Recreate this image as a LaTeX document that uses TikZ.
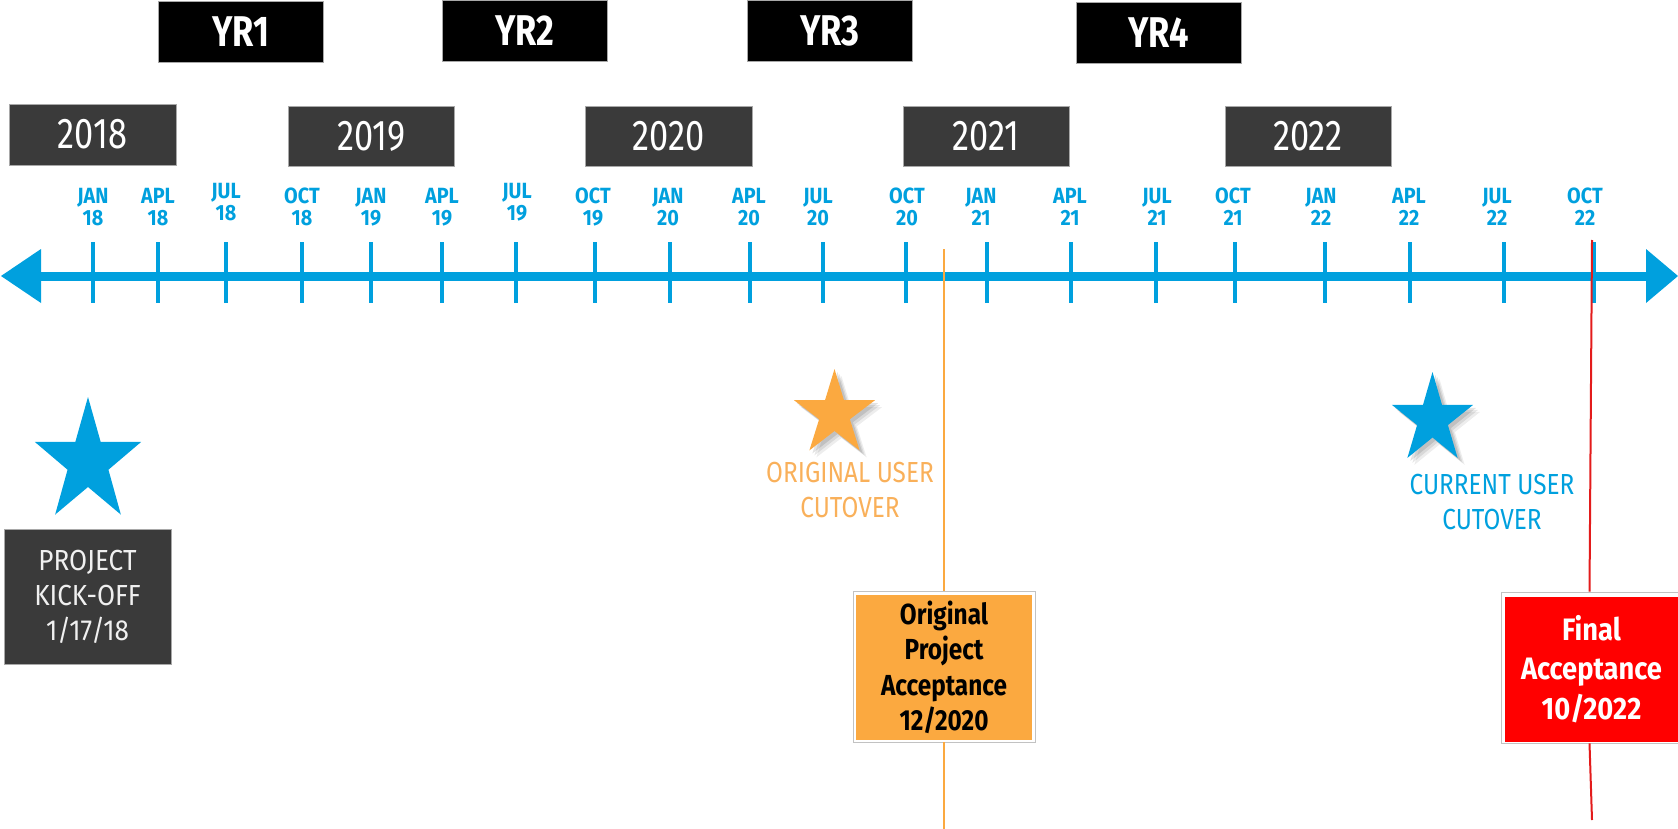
\documentclass[tikz,border=0pt]{standalone}
\usepackage{fontspec}
\setmainfont{Fira Sans}[FakeStretch=0.8]
\newfontfamily\fsn{Fira Sans}[FakeStretch=0.84]
\newfontfamily\fsm{Fira Sans}[FakeStretch=0.88]
\newfontfamily\fsw{Fira Sans}[FakeStretch=0.9]
\usetikzlibrary{shadows}
\definecolor{cblue}{HTML}{00A0DE}
\definecolor{cdark}{HTML}{3A3A3A}
\definecolor{corange}{HTML}{FBA940}
\definecolor{corangetxt}{HTML}{F9B05A}
\definecolor{cred}{HTML}{FF0000}
\definecolor{credline}{HTML}{E31B1B}
\definecolor{cborder}{HTML}{A8A8A8}
\begin{document}
\begin{tikzpicture}[x=1pt,y=-1pt,
  yrbox/.style={fill=black, draw=cborder, line width=0.8pt, inner sep=0pt,
    minimum width=165pt, minimum height=61pt, text=white,
    font=\bfseries\fontsize{43}{43}\selectfont},
  yearbox/.style={fill=cdark, draw=cborder, line width=0.8pt, inner sep=0pt,
    minimum width=166pt, minimum height=60pt, text=white,
    font=\fontsize{43}{43}\selectfont},
  month/.style={text=cblue, align=center, inner sep=0pt,
    font=\fsw\bfseries\fontsize{22}{22}\selectfont},
  tick/.style={draw=cblue, line width=4pt},
  axisline/.style={draw=cblue, line width=9pt},
  cuttext/.style={align=center, inner sep=0pt, font=\fsn\fontsize{29}{35}\selectfont},
  frame/.style={fill=white, draw=cborder!70, line width=0.8pt, inner sep=0pt},
  oline/.style={draw=corange, line width=2.2pt},
  rline/.style={draw=credline, line width=2pt},
  starshadow/.style={
    drop shadow={opacity=0.07, shadow xshift=7pt, shadow yshift=-7pt, fill=black},
    drop shadow={opacity=0.09, shadow xshift=5pt, shadow yshift=-5pt, fill=black},
    drop shadow={opacity=0.11, shadow xshift=3pt, shadow yshift=-3pt, fill=black}}
]
\useasboundingbox (0,0) rectangle (1678,829);

% axis
\coordinate (axL) at (1,276);
\coordinate (axR) at (1678,276);
\coordinate (axLb) at (38,276);
\coordinate (axRb) at (1649,276);
\draw[axisline] (axLb) -- (axRb);
\fill[cblue] (axL) -- ++(40,-27) -- ++(0,54) -- cycle;
\fill[cblue] (axR) -- ++(-32,-27) -- ++(0,54) -- cycle;

% ticks
\foreach \x in {93,158,226,302,371,442,516,595,670,750,823,906,987,1071,1156,1235,1325,1410,1504,1594}
  \draw[tick] (\x,242) -- (\x,303);

% month labels
\foreach \x/\m/\yy/\yv [count=\i] in {93/JAN/18/207, 158/APL/18/207, 226/JUL/18/202.5,
  302/OCT/18/207, 371/JAN/19/207, 442/APL/19/207, 517/JUL/19/202.5, 593/OCT/19/207,
  668/JAN/20/207, 749/APL/20/207, 818/JUL/20/207, 907/OCT/20/207, 981/JAN/21/207,
  1070/APL/21/207, 1157/JUL/21/207, 1233/OCT/21/207, 1321/JAN/22/207, 1409/APL/22/207,
  1497/JUL/22/207, 1585/OCT/22/207}
  \node[month] (mon\i) at (\x,\yv) {\m\\\yy};

% YR boxes
\node[yrbox] (yr1) at (240.5,31.5) {YR1};
\node[yrbox] (yr2) at (525,30.5) {YR2};
\node[yrbox] (yr3) at (830,30.5) {YR3};
\node[yrbox] (yr4) at (1158.5,33) {YR4};

% year boxes
\node[yearbox, minimum width=167pt, minimum height=61pt] (y2018) at (92.5,134.5) {2018};
\node[yearbox] (y2019) at (371.5,136) {2019};
\node[yearbox, minimum width=167pt] (y2020) at (668.5,136) {2020};
\node[yearbox] (y2021) at (986,136) {2021};
\node[yearbox] (y2022) at (1308,136) {2022};

% vertical markers
\coordinate (otop) at (944,249);
\coordinate (obot) at (944,829);
\coordinate (rtop) at (1592,240);
\coordinate (rbot) at (1592,820);

\node[frame, minimum width=182pt, minimum height=151pt] (oframe) at (944,666.5) {};
\node[fill=corange, inner sep=0pt, minimum width=176pt, minimum height=145pt,
  align=center, text=black, font=\fsn\bfseries\fontsize{29}{35.5}\selectfont] (obox) at (944,667.5)
  {Original\\Project\\Acceptance\\12/2020};
\draw[oline] (otop) -- (oframe.north);
\draw[oline] (oframe.south) -- (obot);

\node[frame, minimum width=177pt, minimum height=151pt] (rframe) at (1589.5,667.5) {};
\node[fill=cred, inner sep=0pt, minimum width=173pt, minimum height=145pt,
  align=center, text=white, font=\fsm\bfseries\fontsize{31}{39.5}\selectfont] (rbox) at (1591.5,669)
  {Final\\Acceptance\\10/2022};
\draw[rline] (rtop) -- (rframe.north);
\draw[rline] (rframe.south) -- (rbot);

% stars
\fill[cblue] plot[samples at={0,...,9}, variable=\k]
  ({88+0.86*(65-40*mod(\k,2))*cos(-90+36*\k)},{462+(65-40*mod(\k,2))*sin(-90+36*\k)}) -- cycle;
\fill[corange, starshadow] plot[samples at={0,...,9}, variable=\k]
  ({834.5+0.95*(45-28*mod(\k,2))*cos(-90+36*\k)},{414+(45-28*mod(\k,2))*sin(-90+36*\k)}) -- cycle;
\fill[cblue, starshadow] plot[samples at={0,...,9}, variable=\k]
  ({1432.5+0.9*(47.5-29.5*mod(\k,2))*cos(-90+36*\k)},{419.5+(47.5-29.5*mod(\k,2))*sin(-90+36*\k)}) -- cycle;

% texts
\node[fill=cdark, draw=cborder, line width=0.8pt, inner sep=0pt, minimum width=167pt,
  minimum height=135pt, align=center, text=white!94!black,
  font=\fsw\fontsize{29}{35}\selectfont] (kick) at (87.5,596.5) {PROJECT\\KICK-OFF\\1/17/18};
\node[cuttext, text=corangetxt] (ocut) at (850,490.5) {ORIGINAL USER\\CUTOVER};
\node[cuttext, text=cblue] (ccut) at (1492,502.5) {CURRENT USER\\CUTOVER};
\end{tikzpicture}
\end{document}
